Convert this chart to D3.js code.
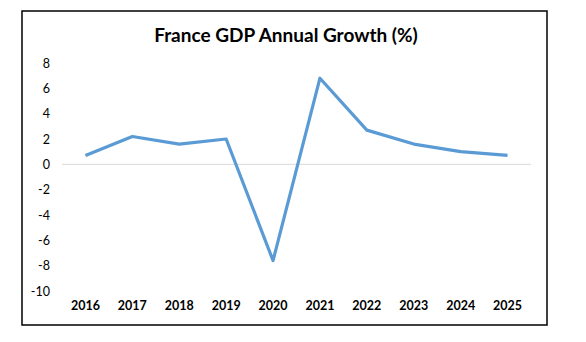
<!DOCTYPE html>
<html>
<head>
<meta charset="utf-8">
<script src="https://cdn.jsdelivr.net/npm/d3@7"></script>
<style>
  body { margin: 0; background: #fff; }
  svg { display: block; }
</style>
</head>
<body>
<svg id="chart"></svg>
<script>
// France GDP annual growth, yearly %
const years = ['2016', '2017', '2018', '2019', '2020', '2021', '2022', '2023', '2024', '2025'];
const growth = [0.7, 2.2, 1.6, 2.0, -7.6, 6.8, 2.7, 1.6, 1.0, 0.7];
const yTicks = [8, 6, 4, 2, 0, -2, -4, -6, -8, -10];

let W = 586, H = 342;
let margin = { top: 63, right: 55, bottom: 51, left: 62 },
    width = W - margin.left - margin.right,
    height = H - margin.top - margin.bottom;

const root = d3.select('#chart')
    .attr('width', W)
    .attr('height', H);

// outer frame
root.append('rect')
    .attr('x', 22).attr('y', 11)
    .attr('width', 525).attr('height', 314)
    .attr('fill', '#fff')
    .attr('stroke', '#000')
    .attr('stroke-width', 1.5);

root.append('text')
    .attr('x', 286)
    .attr('y', 42)
    .attr('text-anchor', 'middle')
    .style('font-family', 'Lato, sans-serif')
    .style('font-weight', 'bold')
    .style('font-size', '19px')
    .style('fill', '#000')
    .text('France GDP Annual Growth (%)');

const svg = root.append('g')
    .attr('transform', `translate(${margin.left}, ${margin.top})`);

let x = d3.scaleBand().domain(years).range([0, 469]);
let y = d3.scaleLinear().domain([-10, 8]).range([228, 0]);

// y tick labels only, plain hyphen for negatives
svg.append('g')
    .call(d3.axisLeft(y).tickValues(yTicks).tickFormat(d => String(d)).tickSize(0).tickPadding(12))
    .call(g => g.select('.domain').remove())
    .selectAll('text')
    .style('font-family', 'Lato, sans-serif')
    .style('font-size', '12.5px')
    .style('fill', '#000');

// x labels sit below the plot, not on the zero line
svg.append('g')
    .attr('transform', `translate(0, ${y(-10) + 10})`)
    .call(d3.axisBottom(x).tickSize(0).tickPadding(0))
    .call(g => g.select('.domain').remove())
    .selectAll('text')
    .attr('dy', '0.71em')
    .style('font-family', 'Lato, sans-serif')
    .style('font-weight', 'bold')
    .style('font-size', '12.5px')
    .style('fill', '#000');

// zero line
svg.append('line')
    .attr('x1', 0).attr('x2', 469)
    .attr('y1', y(0)).attr('y2', y(0))
    .attr('stroke', '#d9d9d9')
    .attr('stroke-width', 1);

let line = d3.line()
    .x(function (d, i) { return x(years[i]) + x.bandwidth() / 2; })
    .y(function (d) { return y(d); });

svg.append('path')
    .datum(growth)
    .attr('d', line)
    .attr('fill', 'none')
    .attr('stroke', '#5b9bd5')
    .attr('stroke-width', 3.2)
    .attr('stroke-linejoin', 'round');
</script>
</body>
</html>
